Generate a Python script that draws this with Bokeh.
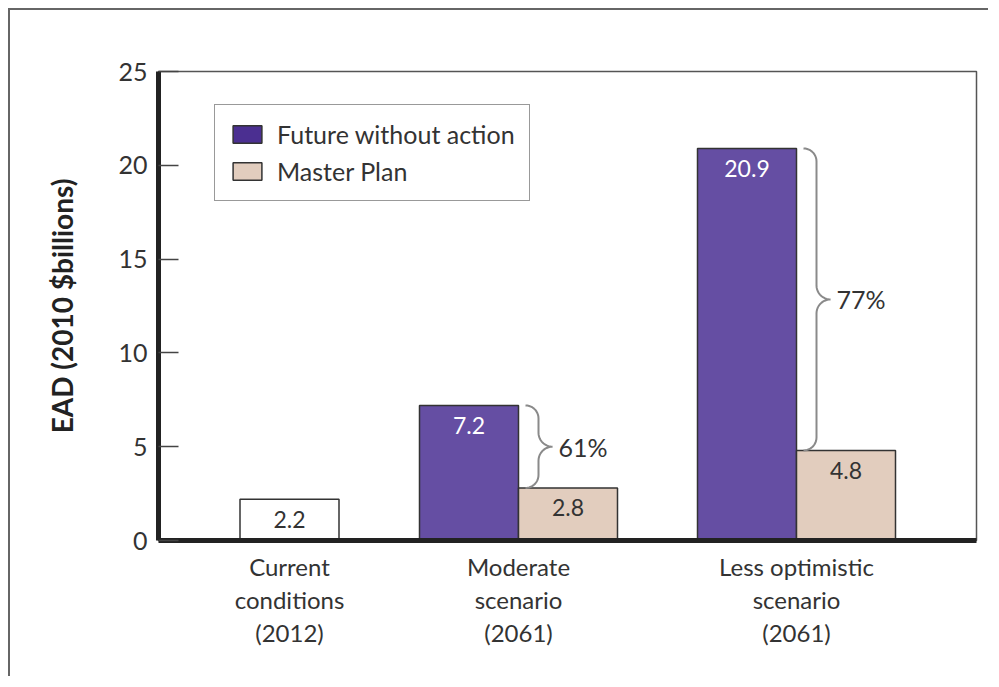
import numpy as np
from bokeh.plotting import figure
from bokeh.models import FixedTicker, Legend, LegendItem, Range1d, ColumnDataSource
from bokeh.core.properties import value
from bokeh.embed import file_html
from bokeh.resources import INLINE

# ---------------- data ----------------
scenario_labels = ["Current\nconditions\n(2012)", "Moderate\nscenario\n(2061)", "Less optimistic\nscenario\n(2061)"]
current_value = [2.2]
future_without_action = [7.2, 20.9]
master_plan = [2.8, 4.8]
reduction_labels = ["61%", "77%"]
y_ticks = [0, 5, 10, 15, 20, 25]
series_names = ["Future without action", "Master Plan"]

# ---------------- layout / style ----------------
FONT = "Lato"
TXT = "#333333"
PURPLE = "#654ea3"
PURPLE_SWATCH = "#4b2f91"
TAN = "#e2cdbe"
EDGE = "#333333"
group_centers = [1.31, 3.60, 6.38]
bar_w = 0.99
X_MAX = 8.18
Y_MAX = 25
FRAME_W, FRAME_H = 818, 469
PX_X = FRAME_W / X_MAX
PX_Y = FRAME_H / Y_MAX

p = figure(width=980, height=668, output_backend="svg", toolbar_location=None,
           x_range=Range1d(0, X_MAX), y_range=Range1d(0, Y_MAX),
           min_border_left=148, min_border_right=14, min_border_top=61, min_border_bottom=138)
p.styles = {"border-left": "2px solid #666", "border-top": "2px solid #666",
            "margin-left": "8px", "margin-top": "8px"}
p.xgrid.visible = False
p.ygrid.visible = False
p.outline_line_color = "#555555"
p.outline_line_width = 1.5
p.background_fill_color = "white"
p.border_fill_color = "white"

# bars
cur_src = ColumnDataSource(dict(x=[group_centers[0]], top=current_value, lab=[str(v) for v in current_value]))
p.vbar(x="x", top="top", width=bar_w, bottom=0, source=cur_src, fill_color="white",
       line_color=EDGE, line_width=1.5)

fut_x = [c - bar_w / 2 for c in group_centers[1:]]
mp_x = [c + bar_w / 2 for c in group_centers[1:]]
fut_src = ColumnDataSource(dict(x=fut_x, top=future_without_action, lab=[str(v) for v in future_without_action]))
mp_src = ColumnDataSource(dict(x=mp_x, top=master_plan, lab=[str(v) for v in master_plan]))
p.vbar(x="x", top="top", width=bar_w, bottom=0, source=fut_src, fill_color=PURPLE,
       line_color=EDGE, line_width=1.5)
p.vbar(x="x", top="top", width=bar_w, bottom=0, source=mp_src, fill_color=TAN,
       line_color=EDGE, line_width=1.5)

# value labels
for src, col in [(cur_src, TXT), (fut_src, "white"), (mp_src, TXT)]:
    p.text(x="x", y="top", text="lab", source=src, text_font=value(FONT), text_font_size="23px",
           text_color=col, text_align="center", text_baseline="middle", y_offset=20)

# braces
def brace(x_end_px, y_top_px, y_bot_px, r=13, r2=14):
    xv = x_end_px + r
    ym = (y_top_px + y_bot_px) / 2
    xs, ys = [], []
    t = np.linspace(np.pi / 2, 0, 12)
    xs += list(x_end_px + r * np.cos(t)); ys += list(y_top_px - r + r * np.sin(t))
    t = np.linspace(np.pi, 1.5 * np.pi, 12)
    xs += list(xv + r2 + r2 * np.cos(t)); ys += list(ym + r2 + r2 * np.sin(t))
    t = np.linspace(0.5 * np.pi, np.pi, 12)
    xs += list(xv + r2 + r2 * np.cos(t)); ys += list(ym - r2 + r2 * np.sin(t))
    t = np.linspace(0, -0.5 * np.pi, 12)
    xs += list(x_end_px + r * np.cos(t)); ys += list(y_bot_px + r + r * np.sin(t))
    return np.array(xs) / PX_X, np.array(ys) / PX_Y, (xv + r2) / PX_X, ym / PX_Y

for i in range(len(future_without_action)):
    xe = (group_centers[i + 1]) * PX_X + 7
    bx, by, tx, ty = brace(xe, future_without_action[i] * PX_Y, master_plan[i] * PX_Y)
    p.line(bx, by, line_color="#8a8a8a", line_width=2)
    p.text(x=[tx], y=[ty], text=[reduction_labels[i]], text_font=value(FONT), text_font_size="25px",
           text_color=TXT, text_align="left", text_baseline="middle", x_offset=6)

# legend (swatch renderers, nothing drawn in the plot)
r1 = p.quad(left=[np.nan], right=[np.nan], top=[np.nan], bottom=[np.nan],
            fill_color=PURPLE_SWATCH, line_color=EDGE, line_width=1.5)
r2 = p.quad(left=[np.nan], right=[np.nan], top=[np.nan], bottom=[np.nan],
            fill_color=TAN, line_color=EDGE, line_width=1.5)
legend = Legend(items=[LegendItem(label=series_names[0], renderers=[r1]),
                       LegendItem(label=series_names[1], renderers=[r2])],
                location=(56, 339), label_text_font=FONT, label_text_font_size="25px",
                label_text_color=TXT, glyph_width=36, glyph_height=22, label_height=25,
                spacing=7, padding=14, margin=0, label_standoff=12,
                border_line_color=EDGE, border_line_width=1.5, background_fill_alpha=1)
p.add_layout(legend, "center")

# y axis
ya = p.yaxis[0]
ya.ticker = FixedTicker(ticks=y_ticks)
ya.axis_line_width = 5
ya.axis_line_color = "#222222"
ya.major_tick_in = 20
ya.major_tick_out = 0
ya.major_tick_line_color = "#444444"
ya.major_tick_line_width = 1.5
ya.minor_tick_line_color = None
ya.major_label_text_font = FONT
ya.major_label_text_font_size = "25px"
ya.major_label_text_color = TXT
ya.major_label_standoff = 11
ya.axis_label = "EAD (2010 $billions)"
ya.axis_label_text_font = FONT
ya.axis_label_text_font_size = "28px"
ya.axis_label_text_font_style = "bold"
ya.axis_label_text_color = "#222222"
ya.axis_label_standoff = 36

# x axis
xa = p.xaxis[0]
xa.ticker = FixedTicker(ticks=group_centers)
xa.major_label_overrides = {c: lab for c, lab in zip(group_centers, scenario_labels)}
xa.axis_line_width = 5
xa.axis_line_color = "#222222"
xa.major_tick_in = 0
xa.major_tick_out = 0
xa.minor_tick_line_color = None
xa.major_label_text_font = FONT
xa.major_label_text_font_size = "24px"
xa.major_label_text_color = TXT
xa.major_label_text_line_height = 1.15
xa.major_label_standoff = 11

open("out.html", "w").write(file_html(p, INLINE))
